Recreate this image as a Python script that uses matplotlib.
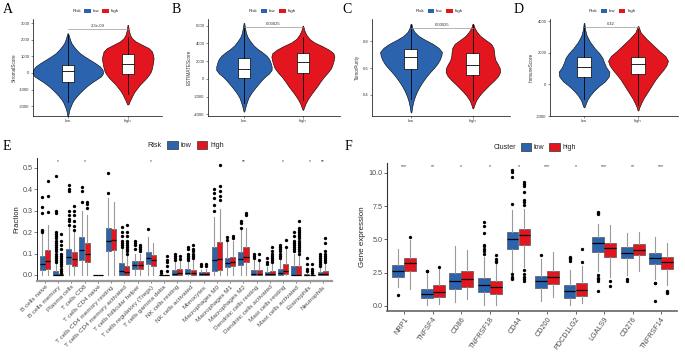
import matplotlib
matplotlib.use("Agg")
import matplotlib.pyplot as plt
from matplotlib.patches import Patch
from matplotlib.lines import Line2D
import numpy as np

plt.rcParams['font.family'] = ['Liberation Sans', 'DejaVu Sans']

W, H = 685, 364
BLUE = "#2B63AE"
RED = "#E3151F"
GREY = "#4D4D4D"

# ---------------- data: panels A-D (violin density profiles + box stats) ----------------
groups = ["low", "high"]
score_names = ["StromalScore", "ESTIMATEScore", "TumorPurity", "ImmuneScore"]
pvalues = ["2.3e-09", "0.00025", "0.00025", "0.42"]

# density profiles (y level, relative density)
a_low_y = [-2600, -2400, -2200, -2000, -1800, -1600, -1400, -1200, -1000, -800, -600, -400, -200,
           0, 200, 400, 600, 800, 1000, 1200, 1400, 1600, 1800, 2000, 2200, 2400]
a_low_d = [1, 3, 5, 9, 13, 19, 27, 36, 46, 57, 70, 85, 100,
           106, 104, 96, 82, 66, 50, 36, 26, 18, 11, 7, 4, 1]
a_high_y = [-1900, -1700, -1500, -1300, -1100, -900, -700, -500, -300, -100, 100, 300, 500,
            700, 900, 1100, 1300, 1500, 1700, 1900, 2100, 2300, 2600, 2900]
a_high_d = [2, 6, 11, 16, 22, 30, 38, 48, 58, 66, 72, 75, 77,
            79, 80, 78, 75, 65, 45, 25, 13, 7, 3, 1]
b_low_y = [-3700, -3100, -2600, -2100, -1600, -1100, -600, -200, 200, 600, 1000, 1400,
           1800, 2200, 2600, 3000, 3400, 3800, 4300, 4700, 5200, 5800, 6300]
b_low_d = [1, 5, 9, 14, 22, 32, 43, 52, 62, 75, 83, 83,
           80, 76, 68, 55, 40, 28, 18, 11, 6, 3, 1]
b_high_y = [-3500, -3200, -2800, -2300, -1800, -1300, -800, -300, 200, 700, 1200, 1700,
            2100, 2500, 2900, 3300, 3700, 4100, 4500, 5000, 5500, 6000]
b_high_d = [1, 4, 8, 15, 24, 34, 44, 53, 63, 75, 85, 90,
            93, 95, 92, 78, 58, 35, 20, 10, 4, 1]
c_low_y = [0.27, 0.30, 0.33, 0.36, 0.39, 0.42, 0.45, 0.48, 0.51, 0.54, 0.57, 0.60,
           0.63, 0.66, 0.69, 0.72, 0.75, 0.78, 0.81, 0.84, 0.87, 0.90, 0.93]
c_low_d = [1, 3, 5, 8, 12, 17, 23, 30, 38, 47, 57, 68,
           78, 85, 90, 92, 82, 65, 42, 22, 10, 4, 1]
c_high_y = [0.30, 0.33, 0.36, 0.39, 0.42, 0.45, 0.48, 0.51, 0.54, 0.57, 0.60, 0.63,
            0.66, 0.69, 0.72, 0.75, 0.78, 0.81, 0.84, 0.87, 0.90, 0.93]
c_high_d = [1, 5, 10, 18, 28, 40, 52, 65, 76, 82, 81, 75,
            68, 65, 64, 62, 55, 38, 22, 12, 5, 1]
d_low_y = [-1450, -1300, -1000, -700, -400, -100, 200, 500, 800, 1100, 1400, 1700,
           2000, 2300, 2700, 3100, 3500, 3900]
d_low_d = [1, 4, 9, 18, 30, 45, 63, 74, 76, 66, 60, 55,
           45, 32, 18, 8, 3, 1]
d_high_y = [-1650, -1450, -1200, -900, -600, -300, 0, 300, 600, 900, 1200, 1500,
            1800, 2100, 2500, 2900, 3300, 3700]
d_high_d = [1, 4, 9, 16, 25, 34, 43, 52, 63, 75, 85, 90,
            82, 65, 45, 25, 8, 1]

# box stats: q1, median, q3, lower whisker, upper whisker
a_low_box = [-550, 100, 500, -1750, 2300]
a_high_box = [-50, 550, 1150, -1250, 2200]
b_low_box = [100, 1100, 2300, -2700, 5800]
b_high_box = [700, 1950, 2900, -2400, 4700]
c_low_box = [0.59, 0.68, 0.74, 0.37, 0.92]
c_high_box = [0.55, 0.62, 0.71, 0.36, 0.92]
d_low_box = [500, 1100, 1740, -900, 3700]
d_high_box = [670, 1290, 1740, -1300, 3500]

a_ticks = [-2000, -1000, 0, 1000, 2000, 3000]
b_ticks = [-4000, -2000, 0, 2000, 4000, 6000]
c_ticks = [0.4, 0.6, 0.8]
d_ticks = [-2000, 0, 2000, 4000]

# ---------------- data: panel E (CIBERSORT fractions) ----------------
cell_types = ["B cells naive", "B cells memory", "Plasma cells", "T cells CD8", "T cells CD4 naive",
              "T cells CD4 memory resting", "T cells CD4 memory activated", "T cells follicular helper",
              "T cells regulatory (Tregs)", "T cells gamma delta", "NK cells resting", "NK cells activated",
              "Monocytes", "Macrophages M0", "Macrophages M1", "Macrophages M2", "Dendritic cells resting",
              "Dendritic cells activated", "Mast cells resting", "Mast cells activated", "Eosinophils",
              "Neutrophils"]
e_low_q1 = [0.025, 0.0, 0.05, 0.07, 0.0, 0.11, 0.0, 0.03, 0.05, 0.0, 0.0, 0.003, 0.0, 0.02, 0.035, 0.045, 0.0, 0.0, 0.0, 0.0, 0.0, 0.0]
e_low_med = [0.05, 0.0, 0.083, 0.115, 0.0, 0.16, 0.018, 0.045, 0.078, 0.0, 0.005, 0.008, 0.003, 0.07, 0.058, 0.075, 0.005, 0.003, 0.01, 0.001, 0.0, 0.003]
e_low_q3 = [0.09, 0.02, 0.12, 0.175, 0.0, 0.22, 0.058, 0.065, 0.105, 0.001, 0.025, 0.03, 0.012, 0.13, 0.08, 0.105, 0.025, 0.015, 0.03, 0.04, 0.003, 0.015]
e_low_lo = [0.0, 0.0, 0.0, 0.0, 0.0, 0.0, 0.0, 0.0, 0.0, 0.0, 0.0, 0.0, 0.0, 0.0, 0.0, 0.0, 0.0, 0.0, 0.0, 0.0, 0.0, 0.0]
e_low_hi = [0.19, 0.05, 0.23, 0.3, 0.0, 0.36, 0.12, 0.1, 0.175, 0.002, 0.06, 0.06, 0.025, 0.27, 0.16, 0.21, 0.07, 0.035, 0.07, 0.1, 0.007, 0.035]
e_low_out = [[0.20, 0.205, 0.21, 0.29, 0.315, 0.365],
             [0.06, 0.07, 0.08, 0.09, 0.10, 0.11, 0.12, 0.13, 0.14, 0.15, 0.16, 0.17, 0.18, 0.19, 0.2, 0.29, 0.30, 0.46],
             [0.235, 0.25, 0.26, 0.28, 0.30, 0.39, 0.40, 0.42],
             [0.34, 0.39, 0.41], [], [0.38, 0.475],
             [0.13, 0.14, 0.15, 0.16, 0.18, 0.2, 0.225],
             [0.12, 0.14, 0.15, 0.16], [0.215], [0.01, 0.02],
             [0.07, 0.08, 0.09, 0.1], [0.07, 0.08, 0.09, 0.1, 0.12, 0.13], [0.04, 0.05],
             [0.3, 0.325, 0.357, 0.38, 0.4], [0.165, 0.175], [0.22, 0.24, 0.25],
             [0.08, 0.09, 0.1], [0.05, 0.06, 0.08], [0.08, 0.09, 0.1, 0.11, 0.12, 0.13, 0.14],
             [0.11, 0.12, 0.13, 0.14, 0.15, 0.16, 0.18, 0.2], [0.02, 0.03, 0.05, 0.08],
             [0.04, 0.05, 0.06, 0.07, 0.08, 0.09, 0.1]]
e_high_q1 = [0.03, 0.0, 0.042, 0.06, 0.0, 0.118, 0.0, 0.028, 0.043, 0.0, 0.0, 0.0, 0.0, 0.023, 0.04, 0.06, 0.0, 0.0, 0.003, 0.0, 0.0, 0.0]
e_high_med = [0.065, 0.0, 0.075, 0.1, 0.0, 0.165, 0.012, 0.045, 0.068, 0.0, 0.01, 0.008, 0.004, 0.073, 0.06, 0.085, 0.005, 0.005, 0.02, 0.002, 0.0, 0.005]
e_high_q3 = [0.115, 0.003, 0.108, 0.148, 0.0, 0.215, 0.04, 0.065, 0.095, 0.001, 0.028, 0.025, 0.013, 0.155, 0.085, 0.13, 0.025, 0.02, 0.05, 0.04, 0.002, 0.02]
e_high_lo = [0.0, 0.0, 0.0, 0.0, 0.0, 0.0, 0.0, 0.0, 0.0, 0.0, 0.0, 0.0, 0.0, 0.0, 0.0, 0.0, 0.0, 0.0, 0.0, 0.0, 0.0, 0.0]
e_high_hi = [0.235, 0.008, 0.2, 0.28, 0.0, 0.34, 0.09, 0.1, 0.15, 0.002, 0.065, 0.07, 0.03, 0.307, 0.16, 0.22, 0.06, 0.05, 0.12, 0.09, 0.005, 0.05]
e_high_out = [[0.295, 0.37, 0.44],
              [0.01, 0.02, 0.03, 0.04, 0.05, 0.06, 0.07, 0.08, 0.09, 0.1, 0.12, 0.14, 0.16, 0.19],
              [0.21, 0.23, 0.25, 0.28, 0.30, 0.32],
              [0.31, 0.33, 0.34], [], [],
              [0.10, 0.11, 0.12, 0.13, 0.14, 0.15, 0.16, 0.18, 0.2, 0.235],
              [0.11, 0.12, 0.13, 0.14], [], [0.02, 0.04, 0.06, 0.07, 0.09],
              [0.075, 0.09], [0.08, 0.09, 0.1, 0.11, 0.12, 0.14], [0.04, 0.05],
              [0.35, 0.37, 0.39, 0.415, 0.514], [0.17, 0.18], [0.28, 0.29],
              [0.07, 0.1], [0.06, 0.07, 0.08, 0.09, 0.1, 0.11, 0.13], [0.13, 0.165],
              [0.1, 0.11, 0.12, 0.13, 0.14, 0.15, 0.16, 0.17, 0.18, 0.19, 0.2, 0.21, 0.22, 0.25],
              [0.01, 0.02, 0.03, 0.05],
              [0.06, 0.07, 0.08, 0.09, 0.1, 0.11, 0.15, 0.17]]
e_signif = ["", "*", "", "*", "", "", "", "", "*", "", "", "", "", "", "", "**", "", "", "*", "", "*", "**"]

# ---------------- data: panel F (checkpoint gene expression) ----------------
genes = ["NRP1", "TNFSF4", "CD86", "TNFRSF18", "CD44", "CD200", "PDCD1LG2", "LGALS9", "CD276", "TNFRSF14"]
f_low_q1 = [2.2, 0.6, 1.25, 1.05, 4.3, 1.35, 0.6, 4.05, 3.6, 3.15]
f_low_med = [2.65, 0.9, 1.85, 1.55, 5.0, 1.85, 1.1, 4.7, 4.0, 3.6]
f_low_q3 = [3.05, 1.3, 2.5, 2.1, 5.55, 2.25, 1.55, 5.2, 4.4, 4.0]
f_low_lo = [1.4, 0.05, 0.3, 0.1, 2.5, 0.4, 0.1, 2.6, 2.3, 2.0]
f_low_hi = [4.25, 2.45, 4.5, 3.7, 7.2, 3.5, 2.7, 6.2, 5.5, 5.2]
f_low_out = [[0.8], [2.6, 2.65], [], [3.9, 4.1, 4.3, 4.5, 4.6, 5.5, 6.0, 6.3],
             [2.0, 2.1, 2.2, 2.4, 7.7, 9.7, 10.1, 10.2], [3.8], [3.4, 3.5, 3.6, 3.7],
             [1.1, 1.9, 2.0, 2.1, 2.3, 6.9, 7.0, 7.05], [1.9, 2.0], [0.35, 1.7, 1.75]]
f_high_q1 = [2.6, 0.7, 1.45, 0.9, 4.55, 1.65, 0.75, 3.65, 3.8, 2.8]
f_high_med = [3.2, 1.05, 2.05, 1.4, 5.3, 2.2, 1.2, 4.35, 4.2, 3.3]
f_high_q3 = [3.6, 1.6, 2.65, 1.85, 5.75, 2.6, 1.75, 4.75, 4.65, 3.7]
f_high_lo = [1.25, 0.15, 0.5, 0.1, 2.9, 0.7, 0.2, 2.2, 2.65, 1.6]
f_high_hi = [4.95, 2.9, 4.2, 3.2, 7.3, 4.05, 3.0, 6.05, 5.55, 4.7]
f_high_out = [[5.2], [2.95], [], [3.3, 3.4, 3.5, 3.8],
              [1.9, 2.0, 2.2, 2.4, 2.7, 7.6, 7.8, 8.0, 8.6, 9.0, 9.2, 9.3], [], [3.3, 4.3],
              [1.5, 1.9], [], [0.95, 1.05, 1.15]]
f_signif = ["***", "**", "*", "*", "*", "***", "*", "***", "**", "***"]


def ax_px(fig, l, t, r, b):
    # axes placed by pixel box (left, top, right, bottom)
    return fig.add_axes([l / W, 1 - b / H, (r - l) / W, (b - t) / H])


def box_stats(q1, med, q3, lo, hi, out):
    return [dict(q1=a, med=m, q3=c, whislo=l, whishi=h, fliers=o)
            for a, m, c, l, h, o in zip(q1, med, q3, lo, hi, out)]


def risk_legend(fig, cx, cy, title, fs, boxkey=False):
    ec = "#333333" if boxkey else "none"
    handles = [Line2D([], [], linestyle="none"),
               Patch(facecolor=BLUE, edgecolor=ec, lw=0.5),
               Patch(facecolor=RED, edgecolor=ec, lw=0.5)]
    fig.legend(handles, [title] + groups, loc="center", bbox_to_anchor=(cx / W, 1 - cy / H),
               ncol=3, frameon=False, fontsize=fs, handlelength=1.5, handleheight=1.3,
               handletextpad=0.4, columnspacing=0.7, borderpad=0, labelcolor="#222222")


fig = plt.figure(figsize=(W / 100, H / 100), dpi=100)

# ---------------- A-D ----------------
profiles = [((a_low_y, a_low_d), (a_high_y, a_high_d)),
            ((b_low_y, b_low_d), (b_high_y, b_high_d)),
            ((c_low_y, c_low_d), (c_high_y, c_high_d)),
            ((d_low_y, d_low_d), (d_high_y, d_high_d))]
boxes = [(a_low_box, a_high_box), (b_low_box, b_high_box), (c_low_box, c_high_box), (d_low_box, d_high_box)]
ticks = [a_ticks, b_ticks, c_ticks, d_ticks]
boxes_px = [(33, 19, 162, 116), (208, 19, 340, 116), (372, 19, 510, 116), (550, 19, 678, 116)]
xlims = [(0.42, 2.57), (0.39, 2.63), (0.37, 2.6), (0.37, 2.74)]
ylims = [(-2600, 3260), (-4200, 6750), (0.243, 0.965), (-2000, 4150)]
vwidths = [(1.18, 0.86), (0.94, 1.07), (1.0, 0.88), (0.94, 1.11)]
bwidths = [0.19, 0.21, 0.21, 0.26]
letter_x = [3, 172, 342, 514]

for k in range(4):
    ax = ax_px(fig, *boxes_px[k])
    vps = []
    for ys, ds in profiles[k]:
        vps.append(dict(coords=np.array(ys, float), vals=np.array(ds, float),
                        mean=0, median=0, min=ys[0], max=ys[-1]))
    for i, col in enumerate([BLUE, RED]):
        parts = ax.violin([vps[i]], positions=[i + 1], widths=vwidths[k][i],
                          showextrema=False, showmeans=False, showmedians=False)
        for b in parts["bodies"]:
            b.set_facecolor(col)
            b.set_edgecolor("black")
            b.set_linewidth(0.4)
            b.set_alpha(1)
    st = [dict(q1=b[0], med=b[1], q3=b[2], whislo=b[3], whishi=b[4], fliers=[]) for b in boxes[k]]
    ax.bxp(st, positions=[1, 2], widths=bwidths[k], patch_artist=True, showcaps=False,
           showfliers=False,
           boxprops=dict(facecolor="white", edgecolor="black", lw=0.5),
           medianprops=dict(color="black", lw=0.6),
           whiskerprops=dict(color="black", lw=0.6))
    # comparison bracket
    ylo, yhi = ylims[k]
    yb = max(boxes[k][0][4], boxes[k][1][4], profiles[k][0][0][-1], profiles[k][1][0][-1])
    yb = yb - 0.04 * (yhi - ylo)
    ax.plot([1, 2], [yb, yb], color="#999999", lw=0.5)
    ax.text(1.5, yb + 0.008 * (yhi - ylo), pvalues[k], ha="center", va="bottom", fontsize=3, color="#333333")
    ax.set_xlim(*xlims[k])
    ax.set_ylim(*ylims[k])
    ax.set_xticks([1, 2])
    ax.set_xticklabels(groups)
    ax.set_yticks(ticks[k])
    ax.set_yticklabels([("%g" % t) for t in ticks[k]])
    ax.tick_params(labelsize=3, length=1.5, width=0.4, pad=1, colors="#333333")
    ax.set_ylabel(score_names[k], fontsize=3.3, labelpad=2, color="#333333")
    for s in ["top", "right"]:
        ax.spines[s].set_visible(False)
    for s in ["left", "bottom"]:
        ax.spines[s].set_linewidth(0.5)
    l, t, r, b = boxes_px[k]
    risk_legend(fig, (l + r) / 2 - 6, 11, "Risk", 3.2)
    fig.text(letter_x[k] / W, 1 - 3 / H, "ABCD"[k], fontsize=10, va="top",
             family="Liberation Serif")

# ---------------- E ----------------
axE = ax_px(fig, 37, 158, 332, 281)
xe = np.arange(len(cell_types))
common = dict(patch_artist=True, showcaps=False,
              flierprops=dict(marker="o", markerfacecolor="black", markeredgecolor="none", markersize=2.4),
              medianprops=dict(color="black", lw=0.9),
              whiskerprops=dict(color="#9A9A9A", lw=0.8))
axE.bxp(box_stats(e_low_q1, e_low_med, e_low_q3, e_low_lo, e_low_hi, e_low_out),
        positions=xe - 0.2, widths=0.38, boxprops=dict(facecolor=BLUE, edgecolor="#555555", lw=0.5), **common)
axE.bxp(box_stats(e_high_q1, e_high_med, e_high_q3, e_high_lo, e_high_hi, e_high_out),
        positions=xe + 0.2, widths=0.38, boxprops=dict(facecolor=RED, edgecolor="#555555", lw=0.5), **common)
for i, s in enumerate(e_signif):
    if s:
        axE.text(xe[i], 0.528, s, ha="center", va="center", fontsize=3.5, color="#333333")
axE.set_xlim(-0.6, 21.7)
axE.set_ylim(-0.028, 0.545)
axE.set_xticks(xe)
axE.set_xticklabels(cell_types, rotation=45, ha="right", rotation_mode="anchor")
axE.set_yticks([0.0, 0.1, 0.2, 0.3, 0.4, 0.5])
axE.set_yticklabels(["0.0", "0.1", "0.2", "0.3", "0.4", "0.5"])
axE.tick_params(axis="x", labelsize=4.6, length=1.5, width=0.5, pad=1, colors=GREY)
axE.tick_params(axis="y", labelsize=5.2, length=2, width=0.5, pad=1, colors=GREY)
axE.set_ylabel("Fraction", fontsize=5.5, labelpad=2, color="#222222")
for s in ["top", "right"]:
    axE.spines[s].set_visible(False)
axE.spines["left"].set_linewidth(0.6)
axE.spines["bottom"].set_linewidth(1.6)
axE.spines["bottom"].set_color("#999999")
risk_legend(fig, 179, 145, "Risk", 5.2, boxkey=True)
fig.text(3 / W, 1 - 140 / H, "E", fontsize=10, va="top", family="Liberation Serif")

# ---------------- F ----------------
axF = ax_px(fig, 387, 163, 677, 311)
xf = np.arange(len(genes))
axF.bxp(box_stats(f_low_q1, f_low_med, f_low_q3, f_low_lo, f_low_hi, f_low_out),
        positions=xf - 0.21, widths=0.41, boxprops=dict(facecolor=BLUE, edgecolor="#555555", lw=0.5), **common)
axF.bxp(box_stats(f_high_q1, f_high_med, f_high_q3, f_high_lo, f_high_hi, f_high_out),
        positions=xf + 0.21, widths=0.41, boxprops=dict(facecolor=RED, edgecolor="#555555", lw=0.5), **common)
for i, s in enumerate(f_signif):
    axF.text(xf[i], 10.45, s, ha="center", va="center", fontsize=3.8, color="#333333")
axF.set_xlim(-0.6, 9.55)
axF.set_ylim(-0.38, 10.75)
axF.set_xticks(xf)
axF.set_xticklabels(genes, rotation=55, ha="right", rotation_mode="anchor")
axF.set_yticks([0.0, 2.5, 5.0, 7.5, 10.0])
axF.set_yticklabels(["0.0", "2.5", "5.0", "7.5", "10.0"])
axF.tick_params(axis="x", labelsize=5.2, length=2, width=0.6, pad=1.5, colors=GREY)
axF.tick_params(axis="y", labelsize=5.2, length=2, width=0.6, pad=1, colors=GREY)
axF.set_ylabel("Gene expression", fontsize=5.8, labelpad=2, color="#222222")
for s in ["top", "right"]:
    axF.spines[s].set_visible(False)
axF.spines["left"].set_linewidth(0.8)
axF.spines["left"].set_color("#333333")
axF.spines["bottom"].set_linewidth(1.2)
axF.spines["bottom"].set_color("#666666")
risk_legend(fig, 528, 147, "Cluster", 5.0, boxkey=True)
fig.text(345 / W, 1 - 140 / H, "F", fontsize=10, va="top", family="Liberation Serif")

fig.savefig("out.png", dpi=100)
